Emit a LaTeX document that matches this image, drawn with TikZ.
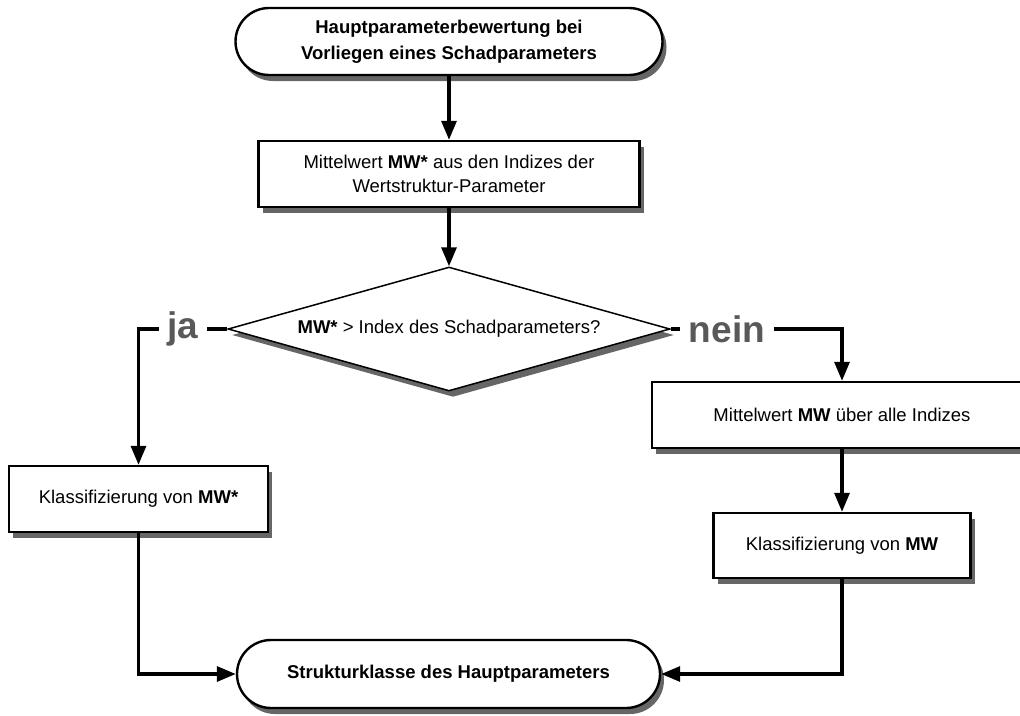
\documentclass[tikz,border=0pt]{standalone}
\usepackage{fontspec}
\setmainfont{Liberation Sans}
\usetikzlibrary{shapes.geometric,shapes.misc,arrows.meta,shadows}
\begin{document}
\begin{tikzpicture}[x=1pt,y=-1pt,
  txt/.style={font=\fontsize{18.5}{24}\selectfont, align=center, text=black},
  shad/.style={drop shadow={shadow xshift=4pt, shadow yshift=-6pt, fill=black!75, opacity=0.8}},
  procbox/.style={rectangle, draw=black, line width=2.4pt, fill=white, inner sep=0pt, txt, shad},
  termbox/.style={rounded rectangle, draw=black, line width=2.4pt, fill=white, inner sep=0pt, txt, shad},
  decbox/.style={diamond, aspect=3.5, draw=black, line width=1.5pt, fill=white, inner sep=0pt, txt, shad},
  answer/.style={inner sep=0pt, minimum height=30pt, font=\fontsize{37}{40}\selectfont\bfseries, text=black!65},
  conn/.style={line width=3.2pt},
  arr/.style={line width=3.2pt, -{Triangle[length=19pt,width=15pt]}}
]
\path[use as bounding box] (0,0) rectangle (1020,715);
\clip (0,0) rectangle (1020,715);

\node[termbox, minimum width=427pt, minimum height=67pt, font=\fontsize{18.5}{26}\selectfont\bfseries] (start) at (449,41.5)
  {Hauptparameterbewertung bei\\Vorliegen eines Schadparameters};
\node[procbox, minimum width=381pt, minimum height=66pt] (b1) at (449,174)
  {Mittelwert \textbf{MW*} aus den Indizes der\\Wertstruktur-Parameter};
\node[decbox, minimum width=442pt, minimum height=124pt] (dia) at (449,329)
  {\textbf{MW*} > Index des Schadparameters?};
\node[answer, minimum width=48pt] (ja) at (183,329) {ja};
\node[answer, minimum width=93pt] (nein) at (727,329) {nein};
\node[procbox, minimum width=259pt, minimum height=66pt] (k1) at (138.5,499)
  {Klassifizierung von \textbf{MW*}};
\node[procbox, minimum width=380pt, minimum height=66pt] (mw) at (842,415)
  {Mittelwert \textbf{MW} über alle Indizes};
\node[procbox, minimum width=257pt, minimum height=65pt] (k2) at (842,545.5)
  {Klassifizierung von \textbf{MW}};
\node[termbox, minimum width=423pt, minimum height=68pt, font=\fontsize{18.5}{24}\selectfont\bfseries] (end) at (448.5,674)
  {Strukturklasse des Hauptparameters};

\draw[arr] (start.south) -- (b1.north);
\draw[arr] (b1.south) -- (dia.north);
\draw[conn] (dia.west) -- (ja.east);
\draw[arr] (ja.west) -| (k1.north);
\draw[conn] (dia.east) -- (nein.west);
\draw[arr] (nein.east) -| (mw.north);
\draw[arr] (mw.south) -- (k2.north);
\draw[arr] (k1.south) |- (end.west);
\draw[arr] (k2.south) |- (end.east);
\end{tikzpicture}
\end{document}
